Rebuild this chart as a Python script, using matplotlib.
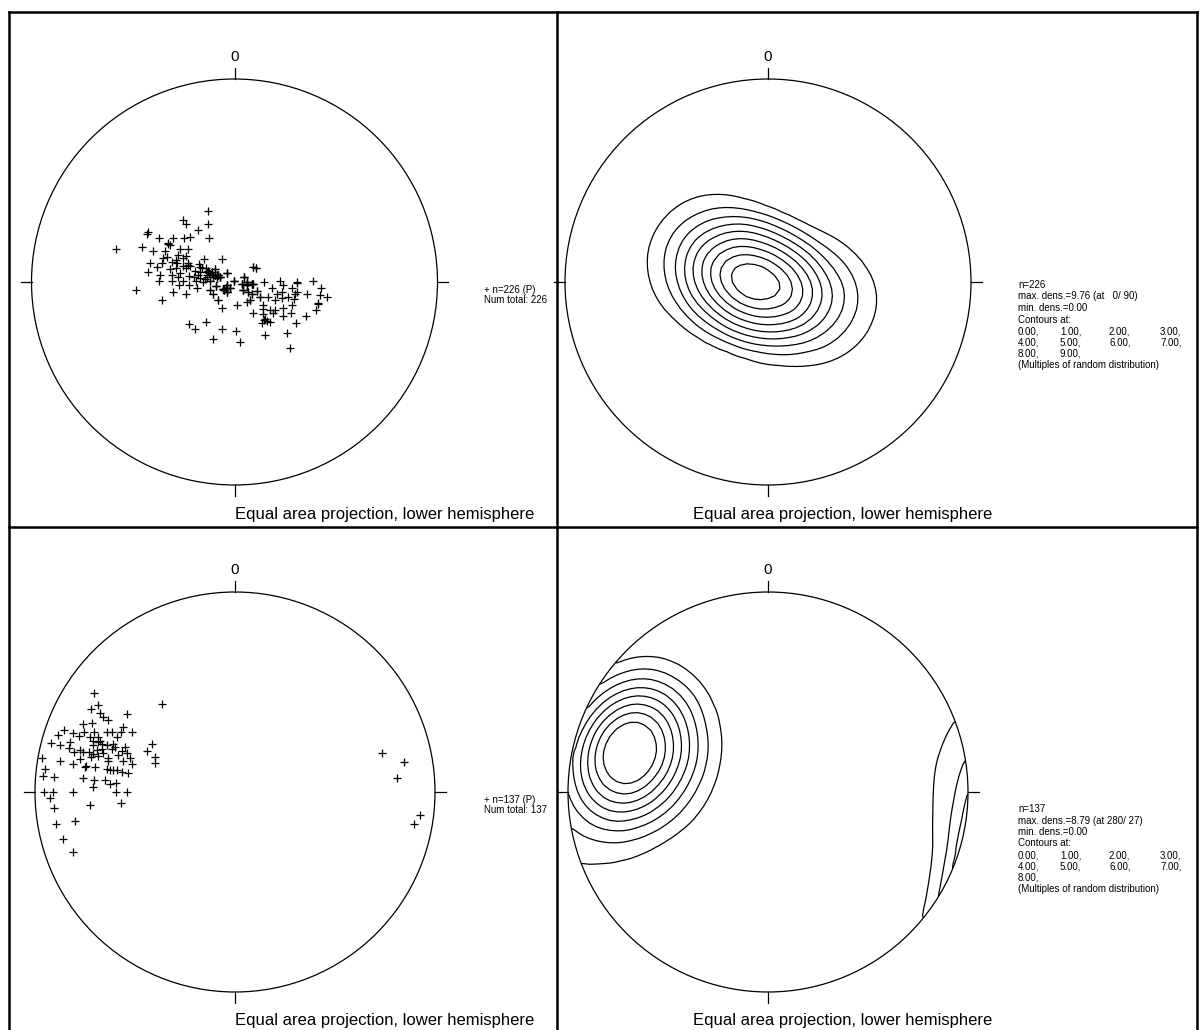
import numpy as np
import matplotlib
matplotlib.use('Agg')
import matplotlib.pyplot as plt
from matplotlib.lines import Line2D
from matplotlib.patches import Circle

plt.rcParams['font.family'] = ['Liberation Sans', 'DejaVu Sans']

# ---------------- data (projected positions, % of net radius: east, north) ----------------
# visible marks, upper data set
TL_EAST = [-12.9, -25.2, -23.9, -13.2, -17.8, -42.4, -43.3, -37.0, -30.1, -24.7, -21.9, -12.4, -32.6, -31.8,
           -45.7, -58.4, -40.3, -26.8, -22.7, -34.2, -28.0, -23.9, -35.1, -28.8, -25.2, -15.0, -6.3, -41.6,
           -35.9, -31.0, -22.7, -21.9, -17.3, -38.3, -25.2, -16.2, -14.0, -42.4, -31.8, -28.8, -23.9, -19.5,
           -12.9, -9.6, 9.3, 10.6, -36.7, -31.0, -26.8, -22.2, -17.8, -12.4, -8.8, -3.9, -37.0, -31.0, -25.2,
           -19.0, -14.5, -10.4, -8.0, -0.2, 4.7, 6.0, -27.2, -22.2, -15.4, -12.1, -9.1, -3.9, 3.5, 8.5, 14.5,
           22.4, 23.7, 30.6, 38.8, -48.5, -30.5, -23.9, -18.6, -12.1, -5.5, -2.2, 6.8, 10.9, 18.3, 28.2, 30.6,
           42.6, -10.4, -3.9, 4.4, 8.5, 12.6, 16.7, 20.8, 23.2, 26.5, 29.8, 35.9, 42.1, 45.4, -35.9, -8.0, 7.6,
           13.9, 20.0, 23.2, 29.3, 41.3, -6.3, 1.4, 6.0, 13.9, 17.5, 20.0, 23.7, 28.2, 40.1, 9.3, 14.2, 19.1,
           24.1, 27.7, 35.2, 15.0, 15.8, 13.4, 17.5, 30.3, -22.2, -19.5, -14.0, -6.3, 0.7, 15.0, 25.7, -10.4,
           2.7, 27.3, -27.7, -17.0, -13.7, -32.6, -22.7, -17.0, -12.1, -9.6, -8.8, -7.1, -5.0, -4.2, 6.0, 8.9,
           30.6, 41.3, 14.7, -13.7, -11.2, -13.4, -17.0, -19.9, -28.5, -33.4]
TL_NORTH = [35.0, 30.5, 28.4, 28.4, 25.8, 24.8, 23.5, 21.8, 21.8, 21.5, 22.3, 21.8, 18.6, 18.2,
            17.1, 16.3, 15.3, 16.3, 16.3, 15.3, 13.3, 13.0, 11.7, 10.8, 11.7, 11.3, 11.3, 9.5,
            9.5, 10.0, 9.2, 8.0, 8.7, 7.6, 7.9, 7.1, 6.7, 5.1, 6.4, 6.7, 6.7, 5.4,
            5.4, 6.4, 7.6, 7.1, 3.4, 3.4, 4.3, 3.1, 3.4, 4.3, 3.4, 4.3, 0.5, 0.5, 0.5,
            0.5, 1.5, 2.6, 3.4, 0.5, 2.6, -0.2, -1.5, -1.5, -0.2, 0.5, -1.8, -1.5, -1.1, -1.1, -0.2,
            0.5, -1.5, -0.2, 0.5, -3.9, -4.8, -5.9, -3.1, -3.9, -3.4, -2.8, -4.8, -4.4, -3.1, -2.8, -4.8,
            -3.1, -6.1, -4.8, -3.9, -6.1, -7.2, -7.2, -6.1, -4.8, -7.2, -6.1, -6.1, -6.4, -7.4, -9.0, -9.0, -8.9,
            -11.3, -8.9, -8.0, -8.4, -10.5, -13.0, -11.3, -9.7, -13.3, -14.0, -13.8, -13.0, -11.3, -14.0, -15.4, -15.9, -15.4,
            -16.6, -15.4, -16.6, -18.2, -19.2, -20.0, -19.9, -20.4, -20.9, -23.2, -19.5, -23.2, -24.1, -26.1, -25.3, -28.2,
            -29.7, -32.3, 2.6, 5.1, 2.6, 19.0, 8.4, 7.6, 3.8, 3.4, 2.1, 2.6, -3.9, -3.1, -1.5, -1.1,
            -0.7, -11.0, -18.7, 4.8, 4.8, 3.4, 2.1, 2.6, 9.2, 12.5]
# marks hidden under visible ones (n=226 in total), in the dense centre of the cluster
TL_HIDDEN_EAST = [-12.9, -9.6, -12.4, -8.8, -3.9, -10.4, -8.0, -0.2, 4.7, 6.0, -12.1, -9.1, -3.9, 3.5,
                  8.5, -12.1, -5.5, -2.2, 6.8, 10.9, -10.4, -3.9, 4.4, 8.5, 12.6, -8.0, 7.6, -11.2, -7.1,
                  -5.0, -4.2, 6.0, 8.9, -12.1, -9.6, -8.8, 9.3, 10.6,
                  -3.9, -0.2, 4.7, 6.0, -3.9, 3.5, -5.5, -2.2, -3.9, 4.4, -7.1, -5.0, -4.2, 6.0, -8.0,
                  -9.1, 8.5]
TL_HIDDEN_NORTH = [5.4, 6.4, 4.3, 3.4, 4.3, 2.6, 3.4, 0.5, 2.6, -0.2, 0.5, -1.8, -1.5, -1.1,
                   -1.1, -3.9, -3.4, -2.8, -4.8, -4.4, -6.1, -4.8, -3.9, -6.1, -7.2, -9.0, -8.9, 4.8, 2.6,
                   -3.9, -3.1, -1.5, -1.1, 3.8, 3.4, 2.1, 7.6, 7.1,
                   4.3, 0.5, 2.6, -0.2, -1.5, -1.1, -3.4, -2.8, -4.8, -3.9, 2.6, -3.9, -3.1, -1.5, 3.4,
                   -1.8, -1.1]

# visible marks, lower data set
BL_EAST = [-70.5, -36.7, -68.7, -72.0, -67.5, -65.8, -53.8, -63.3, -76.2, -71.7, -56.2, -85.3, -80.8, -88.3,
           -75.3, -70.5, -68.3, -64.2, -61.7, -57.2, -51.7, -77.8, -72.5, -67.5, -59.2, -92.2, -87.5, -82.5,
           -70.8, -66.7, -64.2, -60.8, -60.0, -55.0, -41.7, -82.8, -77.5, -72.8, -69.2, -66.7, -61.7, -56.7,
           -43.8, -80.5, -75.8, -70.8, -68.3, -63.3, -58.3, -54.2, -52.5, -96.7, -87.5, -77.5, -72.2, -63.3,
           -55.8, -51.7, -40.0, -40.0, -80.8, -74.5, -70.0, -63.8, -61.2, -58.8, -56.7, -53.3, -95.0, -95.8,
           -90.5, -75.8, -70.5, -65.0, -62.5, -59.5, -70.8, -95.5, -90.8, -81.2, -59.5, -54.2, -92.5, -72.5,
           -57.2, -90.5, -80.0, -89.5, -86.2, -80.8, 73.7, 84.7, 80.8, 92.5, 89.7, -68.3, -70.8, -75.0, -62.5,
           -66.0]
BL_NORTH = [49.3, 44.0, 43.3, 41.3, 39.3, 37.7, 39.0, 36.0, 33.8, 34.3, 32.7, 31.0, 29.7, 28.5,
            30.2, 30.2, 27.7, 30.2, 30.2, 30.2, 29.8, 28.2, 27.7, 25.7, 27.7, 24.7, 23.5, 25.2,
            25.7, 24.0, 23.5, 24.0, 22.7, 22.3, 24.0, 21.8, 21.0, 20.2, 21.0, 21.3, 21.3, 20.7,
            20.5, 20.2, 20.2, 19.0, 18.0, 16.8, 18.5, 19.3, 16.8, 16.8, 15.7, 16.3, 17.3, 15.7,
            15.7, 14.0, 17.3, 14.3, 14.0, 13.0, 12.3, 11.3, 11.0, 11.0, 10.2, 9.3, 11.3, 8.0,
            7.7, 6.8, 6.0, 6.0, 4.0, 4.7, 2.3, -0.2, -0.2, -0.2, -0.2, -0.2, -3.2, -6.5,
            -5.3, -7.8, -14.3, -16.0, -23.3, -29.8, 19.3, 14.8, 6.8, -11.5, -16.0, 25.2, 23.5, 12.7, 11.0,
            19.5]

TOP_LEVELS = [0, 1, 2, 3, 4, 5, 6, 7, 8, 9]
BOTTOM_LEVELS = [0, 1, 2, 3, 4, 5, 6, 7, 8]

TOP_LEGEND = ["+ n=226 (P)", "Num total: 226"]
BOTTOM_LEGEND = ["+ n=137 (P)", "Num total: 137"]
TOP_INFO = ["n=226", "max. dens.=9.76 (at   0/ 90)", "min. dens.=0.00", "Contours at:"]
BOTTOM_INFO = ["n=137", "max. dens.=8.79 (at 280/ 27)", "min. dens.=0.00", "Contours at:"]
TITLE = "Equal area projection, lower hemisphere"
FOOT = "(Multiples of random distribution)"

# ---------------- figure ----------------
W, H = 1200, 1030
fig = plt.figure(figsize=(W / 100, H / 100), dpi=100)


def fpos(x, y):
    return x / W, 1 - y / H


def fline(x0, y0, x1, y1, lw=1.8):
    a = fpos(x0, y0)
    b = fpos(x1, y1)
    fig.add_artist(Line2D([a[0], b[0]], [a[1], b[1]], color='black', lw=lw,
                          transform=fig.transFigure))


def net(cx, cy, R):
    s = 1.3
    ax = fig.add_axes([(cx - s * R) / W, 1 - (cy + s * R) / H, 2 * s * R / W, 2 * s * R / H])
    ax.set_xlim(-s, s)
    ax.set_ylim(-s, s)
    ax.axis('off')
    circ = Circle((0, 0), 1, fill=False, lw=0.9, color='black')
    ax.add_patch(circ)
    t = 0.053
    for (x0, y0, x1, y1) in [(0, 1, 0, 1 + t), (0, -1, 0, -1 - t), (-1, 0, -1 - t, 0), (1, 0, 1 + t, 0)]:
        ax.plot([x0, x1], [y0, y1], color='black', lw=0.9)
    ax.text(0, 1.11, '0', ha='center', va='center', fontsize=11)
    return ax, circ


def to_vectors(east, north):
    x = np.asarray(east, dtype=float) / 100.0
    y = np.asarray(north, dtype=float) / 100.0
    r = np.clip(np.hypot(x, y), 0, 1)
    th = 2 * np.arcsin(r / np.sqrt(2))
    tr = np.arctan2(x, y)
    return np.stack([np.sin(th) * np.sin(tr), np.sin(th) * np.cos(tr), -np.cos(th)], axis=-1)


def density_grid(east, north, alpha, n_grid=61):
    """Axial cone-kernel (finite support, half-angle alpha) density in multiples of random distribution."""
    pts = to_vectors(east, north)
    g = np.linspace(-1.03, 1.03, n_grid)
    GX, GY = np.meshgrid(g, g)
    gv = to_vectors(GX * 100, GY * 100)
    ang = np.arccos(np.clip(np.abs(gv @ pts.T), 0, 1))
    w = np.clip(1 - ang / alpha, 0, None)
    n = len(pts)
    d = w.sum(-1) / (n * (1 - np.sin(alpha) / alpha))
    return GX, GY, d


def scatter_panel(cx, cy, R, east, north, legend, title_x, title_y):
    ax, circ = net(cx, cy, R)
    ax.plot(np.asarray(east) / 100, np.asarray(north) / 100, '+', color='black', ms=6, mew=0.9)
    lx, ly = fpos(cx + 249, cy + 8)
    fig.text(lx, ly, legend[0], fontsize=7, ha='left', va='center')
    lx, ly = fpos(cx + 249, cy + 18)
    fig.text(lx, ly, legend[1], fontsize=7, ha='left', va='center')
    tx, ty = fpos(title_x, title_y)
    fig.text(tx, ty, TITLE, fontsize=12, ha='left', va='center')


def contour_panel(cx, cy, R, east, north, levels, alpha, info, text_y, title_x, title_y):
    ax, circ = net(cx, cy, R)
    GX, GY, d = density_grid(east, north, alpha)
    drawn = [v for v in levels if v > 0]
    cs = ax.contour(GX, GY, d, levels=drawn, colors='black', linewidths=0.9)
    cs.set_clip_path(circ)
    x0 = 1018
    cols = [1018, 1060, 1109, 1160]
    step = 11.5
    y = text_y
    for line in info:
        fig.text(*fpos(x0, y), line, fontsize=7, ha='left', va='center')
        y += step
    labels = ["%.2f," % v for v in levels]
    for i in range(0, len(labels), 4):
        for j, lab in enumerate(labels[i:i + 4]):
            fig.text(*fpos(cols[j], y), lab, fontsize=7, ha='left', va='center')
        y += step
    fig.text(*fpos(x0, y), FOOT, fontsize=7, ha='left', va='center')
    tx, ty = fpos(title_x, title_y)
    fig.text(tx, ty, TITLE, fontsize=12, ha='left', va='center')


top_east = TL_EAST + TL_HIDDEN_EAST
top_north = TL_NORTH + TL_HIDDEN_NORTH

scatter_panel(234.5, 282, 203, top_east, top_north, TOP_LEGEND, 235, 515)
contour_panel(768, 282, 203, top_east, top_north, TOP_LEVELS, 0.56, TOP_INFO, 285, 693, 515)
scatter_panel(235, 792, 200, BL_EAST, BL_NORTH, BOTTOM_LEGEND, 235, 1020)
contour_panel(768, 792, 200, BL_EAST, BL_NORTH, BOTTOM_LEVELS, 0.6, BOTTOM_INFO, 809, 693, 1020)

# panel frame
fline(9, 12, 1197, 12)
fline(9, 12, 9, 1030)
fline(1197, 12, 1197, 1030)
fline(557, 12, 557, 1030)
fline(9, 527, 1197, 527)

fig.savefig('out.png', dpi=100)
